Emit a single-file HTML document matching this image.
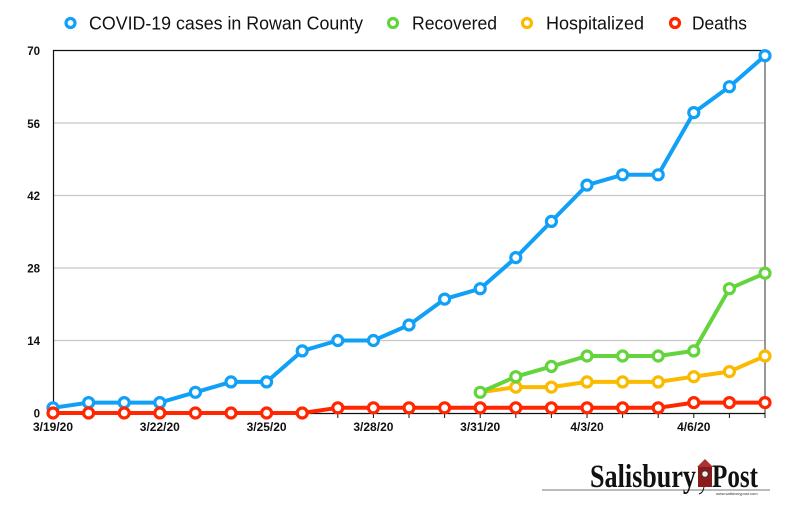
<!DOCTYPE html>
<html><head><meta charset="utf-8"><style>
html,body{margin:0;padding:0;background:#fff;}
svg{display:block;}
</style></head><body>
<svg width="800" height="517" viewBox="0 0 800 517" xmlns="http://www.w3.org/2000/svg" font-family="Liberation Sans, Arial, sans-serif">
<rect width="800" height="517" fill="#fff"/>
<!-- legend -->
<g font-size="18" fill="#111">
<circle cx="70.5" cy="23" r="4.5" fill="#fff" stroke="#11a0f8" stroke-width="3.2"/>
<text x="89" y="29.5" textLength="274" lengthAdjust="spacingAndGlyphs">COVID-19 cases in Rowan County</text>
<circle cx="393" cy="23" r="4.5" fill="#fff" stroke="#63d43c" stroke-width="3.2"/>
<text x="412" y="29.5" textLength="85" lengthAdjust="spacingAndGlyphs">Recovered</text>
<circle cx="527" cy="23" r="4.5" fill="#fff" stroke="#fbb900" stroke-width="3.2"/>
<text x="546" y="29.5" textLength="98" lengthAdjust="spacingAndGlyphs">Hospitalized</text>
<circle cx="675" cy="23" r="4.5" fill="#fff" stroke="#ff2600" stroke-width="3.2"/>
<text x="692" y="29.5" textLength="55" lengthAdjust="spacingAndGlyphs">Deaths</text>
</g>
<!-- grid -->
<g stroke="#c8c8c8" stroke-width="1.2">
<line x1="53" y1="123" x2="765" y2="123"/>
<line x1="53" y1="195.5" x2="765" y2="195.5"/>
<line x1="53" y1="268" x2="765" y2="268"/>
<line x1="53" y1="340.5" x2="765" y2="340.5"/>
</g>
<line x1="53" y1="50.5" x2="765" y2="50.5" stroke="#111" stroke-width="1.2"/>
<line x1="765" y1="50" x2="765" y2="413" stroke="#777" stroke-width="1.5"/>
<line x1="53.5" y1="50" x2="53.5" y2="413" stroke="#111" stroke-width="1.2"/>
<line x1="53" y1="413.5" x2="765" y2="413.5" stroke="#111" stroke-width="1.2"/>
<!-- x ticks -->
<g stroke="#111" stroke-width="1">
<path d="M53 413v5M88.6 413v5M124.2 413v5M159.8 413v5M195.4 413v5M231 413v5M266.6 413v5M302.2 413v5M337.8 413v5M373.4 413v5M409 413v5M444.6 413v5M480.2 413v5M515.8 413v5M551.4 413v5M587 413v5M622.6 413v5M658.2 413v5M693.8 413v5M729.4 413v5M765 413v5"/>
</g>
<!-- y labels -->
<g font-size="11.5" font-weight="bold" fill="#111" text-anchor="end">
<text x="40" y="55">70</text>
<text x="40" y="128">56</text>
<text x="40" y="200">42</text>
<text x="40" y="272.5">28</text>
<text x="40" y="345">14</text>
<text x="40" y="417.5">0</text>
</g>
<!-- x labels -->
<g font-size="12" font-weight="bold" fill="#111" text-anchor="middle">
<text x="53" y="431">3/19/20</text>
<text x="159.8" y="431">3/22/20</text>
<text x="266.6" y="431">3/25/20</text>
<text x="373.4" y="431">3/28/20</text>
<text x="480.2" y="431">3/31/20</text>
<text x="587" y="431">4/3/20</text>
<text x="693.8" y="431">4/6/20</text>
</g>
<!-- series -->
<g fill="none" stroke-width="4" stroke-linejoin="round" stroke-linecap="round">
<polyline stroke="#11a0f8" points="53,407.8 88.6,402.6 124.2,402.6 159.8,402.6 195.4,392.3 231,381.9 266.6,381.9 302.2,350.9 337.8,340.5 373.4,340.5 409,325 444.6,299.1 480.2,288.7 515.8,257.6 551.4,221.4 587,185.1 622.6,174.8 658.2,174.8 693.8,112.6 729.4,86.7 765,55.7"/>
<polyline stroke="#fbb900" points="480.2,392.3 515.8,387.1 551.4,387.1 587,381.9 622.6,381.9 658.2,381.9 693.8,376.7 729.4,371.6 765,356"/>
<polyline stroke="#63d43c" points="480.2,392.3 515.8,376.7 551.4,366.4 587,356 622.6,356 658.2,356 693.8,350.9 729.4,288.7 765,273.2"/>
<polyline stroke="#ff2600" points="53,413 88.6,413 124.2,413 159.8,413 195.4,413 231,413 266.6,413 302.2,413 337.8,407.8 373.4,407.8 409,407.8 444.6,407.8 480.2,407.8 515.8,407.8 551.4,407.8 587,407.8 622.6,407.8 658.2,407.8 693.8,402.6 729.4,402.6 765,402.6"/>
</g>
<g fill="#fff" stroke-width="3.2">
<g stroke="#11a0f8">
<circle cx="53" cy="407.8" r="5"/><circle cx="88.6" cy="402.6" r="5"/><circle cx="124.2" cy="402.6" r="5"/><circle cx="159.8" cy="402.6" r="5"/><circle cx="195.4" cy="392.3" r="5"/><circle cx="231" cy="381.9" r="5"/><circle cx="266.6" cy="381.9" r="5"/><circle cx="302.2" cy="350.9" r="5"/><circle cx="337.8" cy="340.5" r="5"/><circle cx="373.4" cy="340.5" r="5"/><circle cx="409" cy="325" r="5"/><circle cx="444.6" cy="299.1" r="5"/><circle cx="480.2" cy="288.7" r="5"/><circle cx="515.8" cy="257.6" r="5"/><circle cx="551.4" cy="221.4" r="5"/><circle cx="587" cy="185.1" r="5"/><circle cx="622.6" cy="174.8" r="5"/><circle cx="658.2" cy="174.8" r="5"/><circle cx="693.8" cy="112.6" r="5"/><circle cx="729.4" cy="86.7" r="5"/><circle cx="765" cy="55.7" r="5"/>
</g>
<g stroke="#fbb900">
<circle cx="515.8" cy="387.1" r="5"/><circle cx="551.4" cy="387.1" r="5"/><circle cx="587" cy="381.9" r="5"/><circle cx="622.6" cy="381.9" r="5"/><circle cx="658.2" cy="381.9" r="5"/><circle cx="693.8" cy="376.7" r="5"/><circle cx="729.4" cy="371.6" r="5"/><circle cx="765" cy="356" r="5"/>
</g>
<g stroke="#63d43c">
<circle cx="480.2" cy="392.3" r="5"/><circle cx="515.8" cy="376.7" r="5"/><circle cx="551.4" cy="366.4" r="5"/><circle cx="587" cy="356" r="5"/><circle cx="622.6" cy="356" r="5"/><circle cx="658.2" cy="356" r="5"/><circle cx="693.8" cy="350.9" r="5"/><circle cx="729.4" cy="288.7" r="5"/><circle cx="765" cy="273.2" r="5"/>
</g>
<g stroke="#ff2600">
<circle cx="53" cy="413" r="5"/><circle cx="88.6" cy="413" r="5"/><circle cx="124.2" cy="413" r="5"/><circle cx="159.8" cy="413" r="5"/><circle cx="195.4" cy="413" r="5"/><circle cx="231" cy="413" r="5"/><circle cx="266.6" cy="413" r="5"/><circle cx="302.2" cy="413" r="5"/><circle cx="337.8" cy="407.8" r="5"/><circle cx="373.4" cy="407.8" r="5"/><circle cx="409" cy="407.8" r="5"/><circle cx="444.6" cy="407.8" r="5"/><circle cx="480.2" cy="407.8" r="5"/><circle cx="515.8" cy="407.8" r="5"/><circle cx="551.4" cy="407.8" r="5"/><circle cx="587" cy="407.8" r="5"/><circle cx="622.6" cy="407.8" r="5"/><circle cx="658.2" cy="407.8" r="5"/><circle cx="693.8" cy="402.6" r="5"/><circle cx="729.4" cy="402.6" r="5"/><circle cx="765" cy="402.6" r="5"/>
</g>
</g>
<!-- logo -->
<line x1="542" y1="490" x2="770" y2="490" stroke="#bbb" stroke-width="2"/>
<g font-family="Liberation Serif, Times New Roman, serif" fill="#111" font-weight="bold">
<text x="590" y="487" font-size="33" textLength="106" lengthAdjust="spacingAndGlyphs">Salisbury</text>
<text x="712" y="487" font-size="33" textLength="46" lengthAdjust="spacingAndGlyphs">Post</text>
</g>
<g>
<rect x="698" y="466" width="14" height="21" fill="#8b1a1a"/>
<polygon points="697,467 705,459 713,467" fill="#a33"/>
<circle cx="705" cy="474" r="3.2" fill="#eee" stroke="#333" stroke-width="0.8"/>
<path d="M704 487 q-1 6 -5 7" stroke="#111" stroke-width="1" fill="none"/>
</g>
<text x="716" y="495" font-size="4" fill="#333" font-family="Liberation Sans, sans-serif">www.salisburypost.com</text>
</svg>
</body></html>
